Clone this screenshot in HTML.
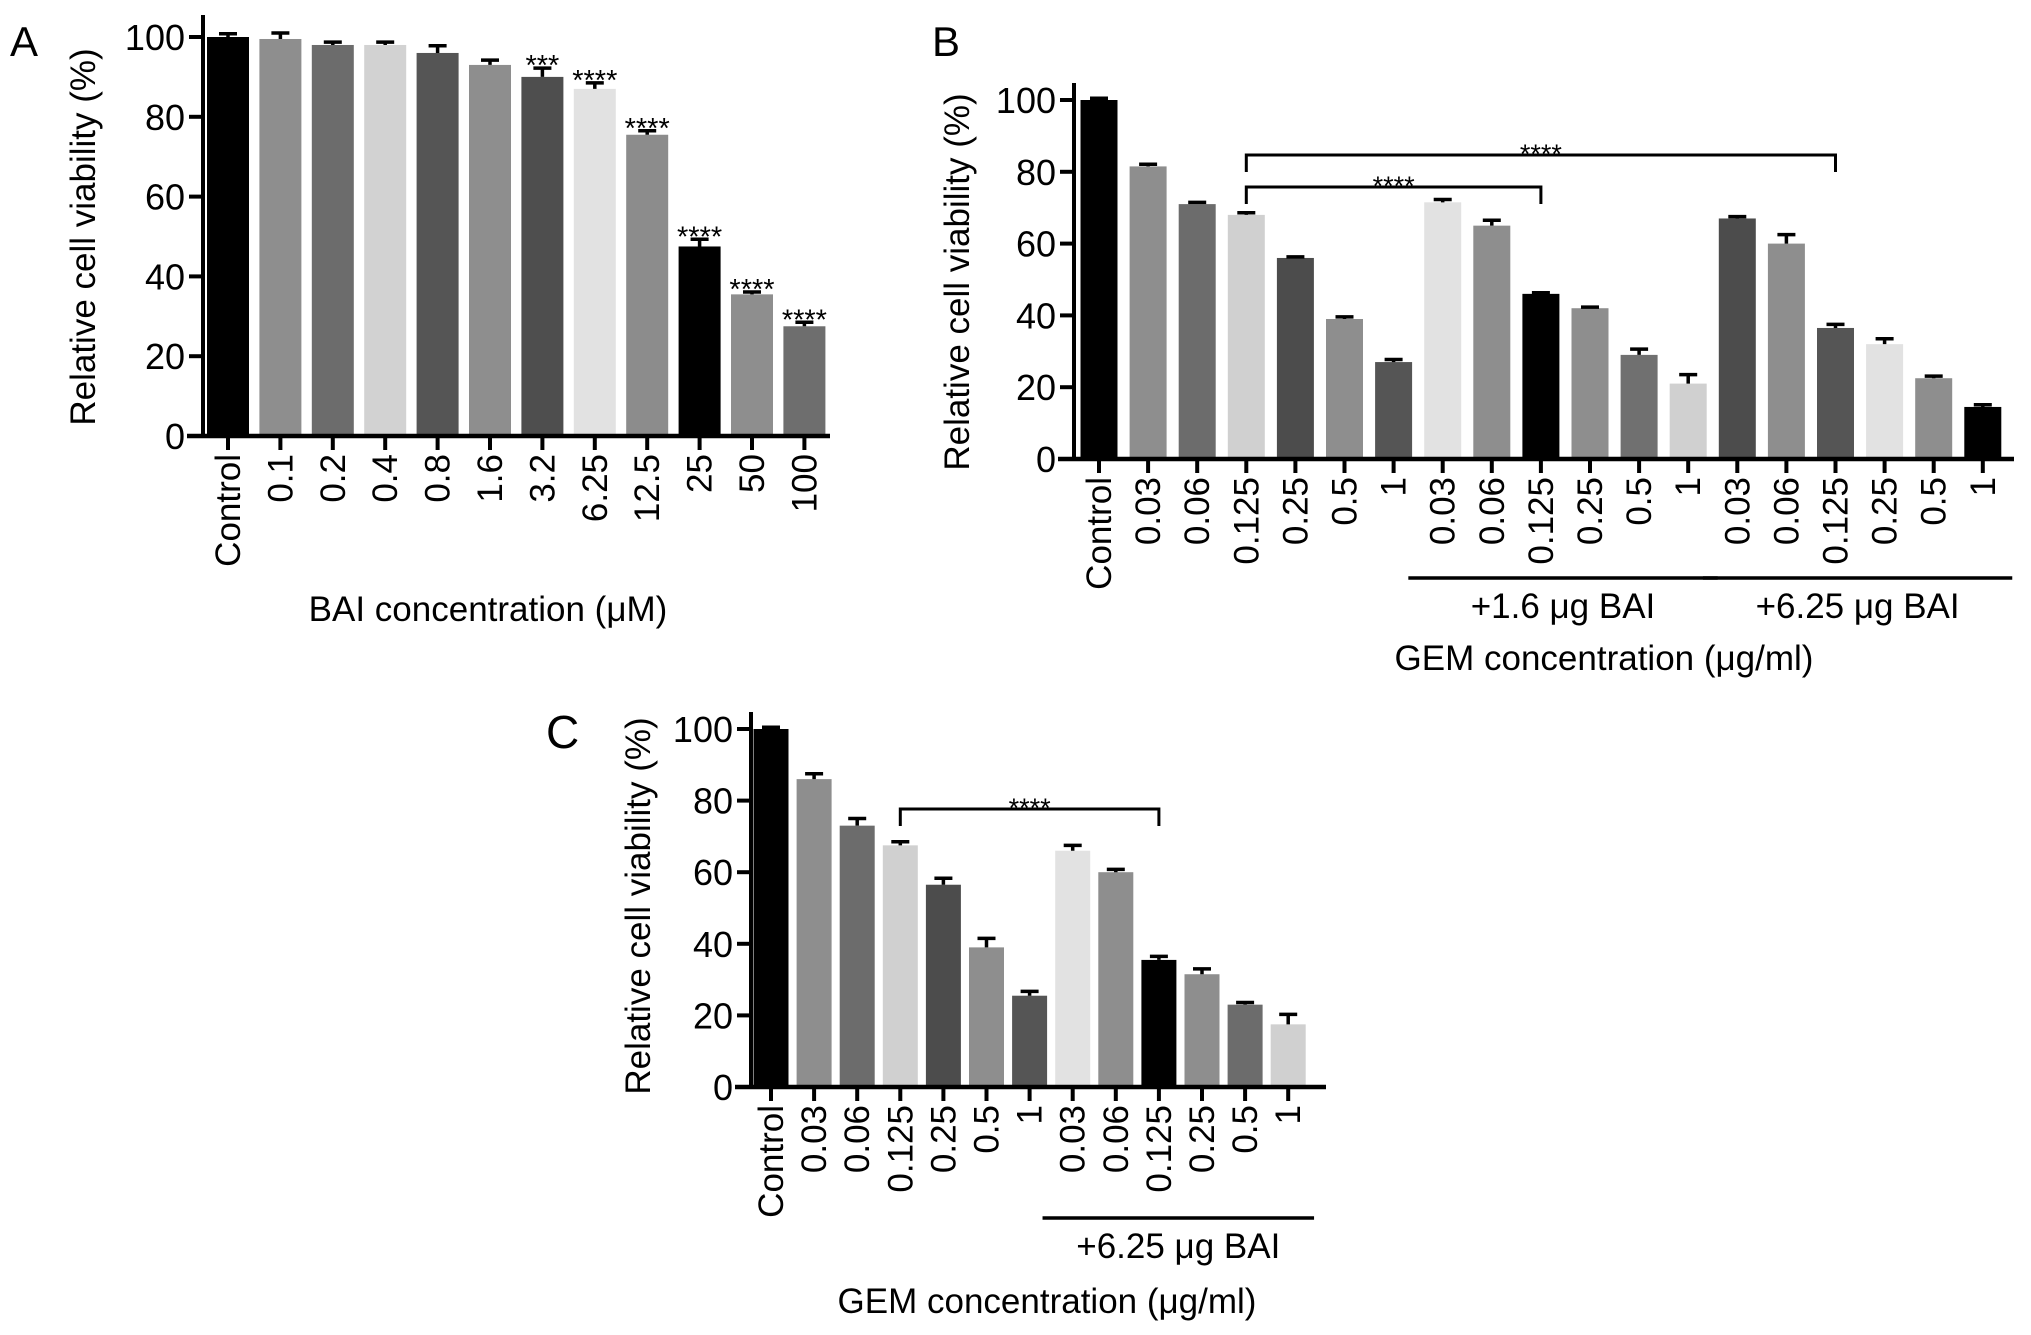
<!DOCTYPE html>
<html><head><meta charset="utf-8">
<style>
html,body{margin:0;padding:0;background:#fff;}
svg{display:block;font-family:"Liberation Sans",sans-serif;}
</style></head>
<body>
<svg id="fig" width="2031" height="1335" viewBox="0 0 2031 1335" xmlns="http://www.w3.org/2000/svg">
<rect width="2031" height="1335" fill="#fff"/>
<text x="10" y="56" font-size="42">A</text>
<text x="932" y="56" font-size="42">B</text>
<text x="546" y="748" font-size="46">C</text>
</svg>
<script>
// Panel A data
const catsA = ["Control","0.1","0.2","0.4","0.8","1.6","3.2","6.25","12.5","25","50","100"];
const valsA = [100,99.5,98,98,96,93,90,87,75.5,47.5,35.5,27.5];
const errsA = [0.8,1.5,0.7,0.7,1.8,1.2,2.2,1.5,1,1.8,0.6,1];
const starsA = ["","","","","","","***","****","****","****","****","****"];
const colsA = ["#000","#8e8e8e","#6c6c6c","#d2d2d2","#555","#8e8e8e","#4e4e4e","#e2e2e2","#8c8c8c","#000","#8e8e8e","#6e6e6e"];
// Panel B data
const catsB = ["Control","0.03","0.06","0.125","0.25","0.5","1","0.03","0.06","0.125","0.25","0.5","1","0.03","0.06","0.125","0.25","0.5","1"];
const valsB = [100,81.5,71,68,56,39,27,71.5,65,46,42,29,21,67,60,36.5,32,22.5,14.5];
const errsB = [0.5,0.6,0.5,0.6,0.3,0.6,0.7,0.8,1.5,0.3,0.3,1.6,2.5,0.5,2.5,1,1.5,0.6,0.6];
const colsB = ["#000","#8e8e8e","#6c6c6c","#d0d0d0","#4c4c4c","#8e8e8e","#555","#e2e2e2","#8e8e8e","#000","#8e8e8e","#707070","#d0d0d0","#4c4c4c","#8e8e8e","#555","#e2e2e2","#8e8e8e","#000"];
const groupsB = [{label:"+1.6 \u03bcg BAI",from:7,to:12},{label:"+6.25 \u03bcg BAI",from:13,to:18}];
const bracketsB = [{from:3,to:9,label:"****",level:0},{from:3,to:15,label:"****",level:1}];
// Panel C data
const catsC = ["Control","0.03","0.06","0.125","0.25","0.5","1","0.03","0.06","0.125","0.25","0.5","1"];
const valsC = [100,86,73,67.5,56.5,39,25.5,66,60,35.5,31.5,23,17.5];
const errsC = [0.5,1.5,2,1,1.8,2.5,1.2,1.5,0.8,1,1.5,0.6,2.8];
const colsC = ["#000","#8e8e8e","#6c6c6c","#d0d0d0","#4c4c4c","#8e8e8e","#555","#e2e2e2","#8e8e8e","#000","#8e8e8e","#6c6c6c","#d0d0d0"];
const groupsC = [{label:"+6.25 \u03bcg BAI",from:7,to:12}];
const bracketsC = [{from:3,to:9,label:"****",level:0}];
const yTicks = [0,20,40,60,80,100];

const NS="http://www.w3.org/2000/svg";
const svg=document.getElementById('fig');
function mk(tag,attrs,parent){const e=document.createElementNS(NS,tag);for(const k in attrs)e.setAttribute(k,attrs[k]);(parent||svg).appendChild(e);return e;}

function panel(p,cats,vals,errs,cols,stars,groups,brackets){
  const g=mk('g',{});
  
  
  const y=v=>p.y0-(v/100)*p.h;
  const x=i=>p.x0+i*p.step;
  cats.forEach((c,i)=>{
    const r=mk('rect',{x:x(i)-p.bw/2,y:y(vals[i]),width:p.bw,height:p.y0-y(vals[i]),fill:cols[i]},g);
    
    
    const et=y(vals[i]+errs[i]);
    const e=mk('path',{d:`M${x(i)} ${y(vals[i])}V${et}M${x(i)-9} ${et}H${x(i)+9}`,stroke:'#000','stroke-width':3.5,fill:'none'},g);
    
    
    if(stars&&stars[i]){
      const s=mk('text',{x:x(i),y:et+7,'font-size':29,'text-anchor':'middle'},g);
      s.textContent=stars[i];
      
      
    }
    const tk=mk('line',{x1:x(i),x2:x(i),y1:p.y0,y2:p.y0+14,stroke:'#000','stroke-width':4},g);
    
    
    const t=mk('text',{transform:`translate(${x(i)+12},${p.y0+18}) rotate(-90)`,'font-size':p.fs,'text-anchor':'end'},g);
    t.textContent=c;
    
    
  });
  const ya=mk('line',{x1:p.ax,x2:p.ax,y1:p.top,y2:p.y0+2,stroke:'#000','stroke-width':4},g);
  
  
  const xa=mk('line',{x1:p.ax-16,x2:p.xe,y1:p.y0,y2:p.y0,stroke:'#000','stroke-width':4.5},g);
  
  
  yTicks.forEach(v=>{
    const l=mk('line',{x1:p.ax-14,x2:p.ax,y1:y(v),y2:y(v),stroke:'#000','stroke-width':4},g);
    
    
    const t=mk('text',{x:p.ax-18,y:y(v)+13,'font-size':p.fs+1,'text-anchor':'end'},g);
    t.textContent=v;
    
    
  });
  const yl=mk('text',{transform:`translate(${p.ylx},${p.yly}) rotate(-90)`,'font-size':p.fs,'text-anchor':'middle'},g);
  yl.textContent='Relative cell viability (%)';
  
  
  const xt=mk('text',{x:p.xtx,y:p.xty,'font-size':p.fs,'text-anchor':'middle'},g);
  xt.textContent=p.xtitle;
  
  
  (groups||[]).forEach(gr=>{
    const x1=x(gr.from)-p.step*0.7, x2=x(gr.to)+p.step*0.6;
    const l=mk('line',{x1:x1,x2:x2,y1:p.gy,y2:p.gy,stroke:'#000','stroke-width':3.5},g);
    
    
    const t=mk('text',{x:(x1+x2)/2,y:p.gy+40,'font-size':p.fs,'text-anchor':'middle'},g);
    t.textContent=gr.label;
    
    
  });
  (brackets||[]).forEach(b=>{
    const by=p.by[b.level];
    const pa=mk('path',{d:`M${x(b.from)} ${by+17}V${by}H${x(b.to)}V${by+17}`,stroke:'#000','stroke-width':3,fill:'none'},g);
    
    
    const t=mk('text',{x:(x(b.from)+x(b.to))/2,y:by+8,'font-size':27,'text-anchor':'middle'},g);
    t.textContent=b.label;
    
    
  });
}

panel({id:'panel-a',x0:228,step:52.4,bw:42,y0:436,h:399,ax:203,top:15,xe:830,fs:35,ylx:95,yly:237,xtx:488,xty:621,xtitle:'BAI concentration (\u03bcM)'},
  catsA,valsA,errsA,colsA,starsA,null,null);
panel({id:'panel-b',x0:1099,step:49.1,bw:37,y0:459,h:359,ax:1074,top:83,xe:2014,fs:35,ylx:969,yly:282,xtx:1604,xty:670,gy:578,by:[187,155],xtitle:'GEM concentration (\u03bcg/ml)'},
  catsB,valsB,errsB,colsB,null,groupsB,bracketsB);
panel({id:'panel-c',x0:771,step:43.1,bw:35,y0:1087,h:358,ax:751,top:712,xe:1326,fs:35,ylx:650,yly:906,xtx:1047,xty:1313,gy:1218,by:[809],xtitle:'GEM concentration  (\u03bcg/ml)'},
  catsC,valsC,errsC,colsC,null,groupsC,bracketsC);
</script>
</body></html>
